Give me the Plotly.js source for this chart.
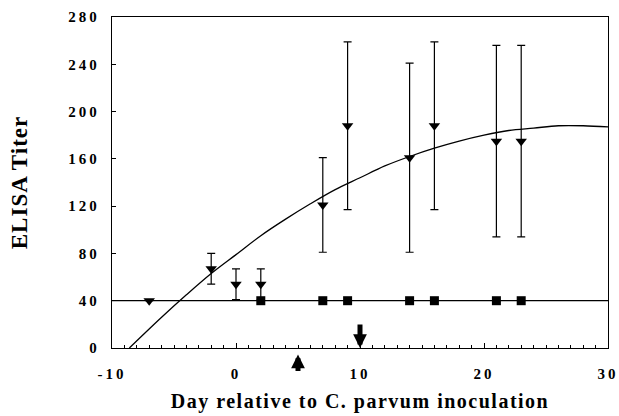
<!DOCTYPE html>
<html>
<head>
<meta charset="utf-8">
<script src="https://cdn.plot.ly/plotly-3.0.1.min.js"></script>
<style>
  html, body { margin: 0; padding: 0; background: #fff; }
  #chart { width: 619px; height: 416px; }
  .xtitle { letter-spacing: 1.5px; }
  .ytitle { letter-spacing: 1px; }
  .xtick text, .ytick text { letter-spacing: 3px; }
</style>
</head>
<body>
<div id="chart"></div>
<script>
// Triangles (immunized group) – mean ELISA titer with error
var triDays  = [-7, -2, 0, 2, 7, 9, 14, 16, 21, 23];
var triTiter = [40, 67, 54, 54, 121, 188, 161, 188, 175, 175];
var triErr   = [0, 13, 13, 13, 40, 71, 80, 71, 81, 81];

// Squares (control group)
var sqDays  = [2, 7, 9, 14, 16, 21, 23];
var sqTiter = [40, 40, 40, 40, 40, 40, 40];

// Baseline titer line
var baseDays  = [-10, 30];
var baseTiter = [40, 40];

// Fitted curve
var fitDays  = [-8.6, -6, -4, -2, 0, 2, 4, 6, 8, 10, 12, 14, 16, 18, 20, 22, 24, 26, 28, 30];
var fitTiter = [0, 26, 45, 63, 79, 95, 109, 122, 134, 144, 154, 162, 169, 175, 180, 184, 186, 188, 188, 187];

// Event arrows (days)
var upArrowDays = [5];
var downArrowDays = [10];

var xTickVals = [-10, 0, 10, 20, 30];
var yTickVals = [0, 40, 80, 120, 160, 200, 240, 280];

var black = '#000';
var serif = 'Liberation Serif, Times New Roman, serif';

function bold(v) { return '<b>' + v + '</b>'; }

var traces = [
  { x: baseDays, y: baseTiter, mode: 'lines', line: {color: black, width: 1.2}, hoverinfo: 'skip' },
  { x: fitDays, y: fitTiter, mode: 'lines', line: {color: black, width: 1.3, shape: 'spline'}, hoverinfo: 'skip' },
  { x: sqDays, y: sqTiter, mode: 'markers', marker: {symbol: 'square', size: 9, color: black} },
  { x: triDays, y: triTiter, mode: 'markers',
    marker: {symbol: 'triangle-down', size: 10, color: black},
    error_y: {type: 'data', array: triErr, visible: true, color: black, thickness: 1.2, width: 4} }
];

var annotations = [];
downArrowDays.forEach(function (d) {
  annotations.push({ x: d, y: 0, xref: 'x', yref: 'y', text: '', showarrow: true,
    ax: 0, ay: -25, arrowhead: 2, arrowsize: 0.55, arrowwidth: 5, arrowcolor: black });
});
upArrowDays.forEach(function (d) {
  annotations.push({ x: d, y: -0.02, xref: 'x', yref: 'paper', text: '', showarrow: true,
    ax: 0, ay: 18, arrowhead: 2, arrowsize: 0.55, arrowwidth: 5, arrowcolor: black });
});

var layout = {
  width: 619, height: 416,
  margin: {l: 112, r: 11, t: 17, b: 68},
  paper_bgcolor: '#fff', plot_bgcolor: '#fff',
  showlegend: false,
  font: {family: serif, color: black},
  xaxis: {
    range: [-10, 30], tickvals: xTickVals, ticktext: xTickVals.map(bold),
    ticks: 'inside', ticklen: 5, tickwidth: 1, tickcolor: black,
    minor: {dtick: 1, ticks: 'inside', ticklen: 3, tickcolor: black},
    showline: true, linecolor: black, linewidth: 1.2, mirror: true,
    showgrid: false, zeroline: false,
    ticklabelstandoff: 12, ticklabeloverflow: 'allow',
    tickfont: {size: 15, family: serif, color: black},
    title: {text: '<b>Day relative to C. parvum inoculation</b>', standoff: 12,
      font: {size: 20, family: serif, color: black}}
  },
  yaxis: {
    range: [0, 280], tickvals: yTickVals, ticktext: yTickVals.map(bold),
    ticks: 'inside', ticklen: 4, tickwidth: 1, tickcolor: black,
    showline: true, linecolor: black, linewidth: 1.2, mirror: true,
    showgrid: false, zeroline: false,
    ticklabelstandoff: 8, ticklabeloverflow: 'allow',
    tickfont: {size: 15, family: serif, color: black},
    title: {text: '<b>ELISA Titer</b>', standoff: 34,
      font: {size: 23, family: serif, color: black}}
  },
  annotations: annotations
};

Plotly.newPlot('chart', traces, layout, {displayModeBar: false, staticPlot: true});
</script>
</body>
</html>
